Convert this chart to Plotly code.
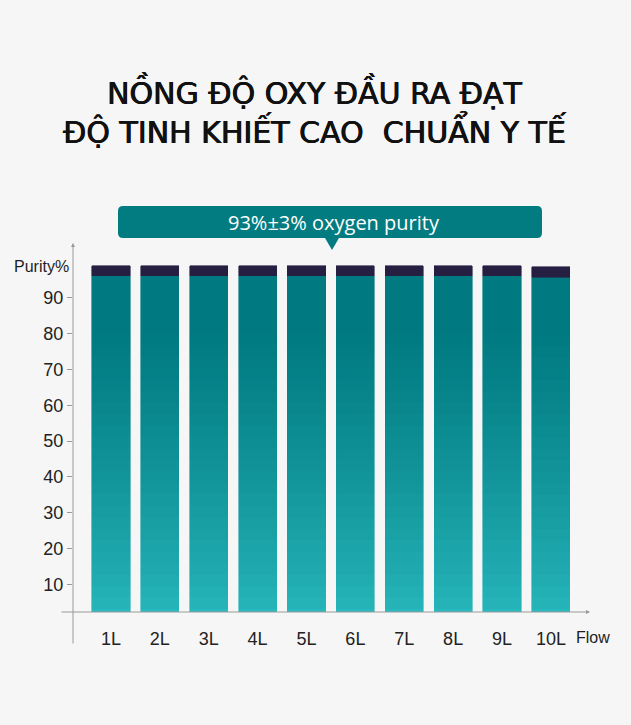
import plotly.graph_objects as go

# ---- data ----
flows = ["1L", "2L", "3L", "4L", "5L", "6L", "7L", "8L", "9L", "10L"]
purity_base = [96.1, 96.1, 96.1, 96.1, 96.1, 96.1, 96.1, 96.1, 96.1, 95.8]
purity_band = [2.8, 2.8, 2.8, 2.8, 2.8, 2.8, 2.8, 2.8, 2.8, 2.8]
y_ticks = [10, 20, 30, 40, 50, 60, 70, 80, 90]

# plot area in page pixels
W, H = 631, 725
PL, PR, PT, PB = 73, 590, 243, 612
BG = "#f6f6f6"


def fx(px):
    return (px - PL) / (PR - PL)


def fy(py):
    return (PB - py) / (PB - PT)


def mix(c1, c2, t):
    return "rgb(%d,%d,%d)" % tuple(round(a + (b - a) * t) for a, b in zip(c1, c2))


TOP = (0, 122, 128)
BOTTOM = (40, 184, 189)
N_BANDS = 30

fig = go.Figure()

# gradient teal bars: stacked bands, light at bottom -> dark at top
for k in range(N_BANDS):
    t = k / (N_BANDS - 1)
    col = mix(BOTTOM, TOP, min(1, t ** 0.8 * 1.15))
    fig.add_trace(go.Bar(
        x=flows, y=[v / N_BANDS for v in purity_base],
        marker=dict(color=col, line=dict(color=col, width=0.6)),
        showlegend=False, hoverinfo="skip",
    ))

fig.add_trace(go.Bar(
    x=flows, y=purity_band,
    marker=dict(color="#261f42", line=dict(color="#261f42", width=0.6)),
    showlegend=False, hoverinfo="skip",
))

fig.update_layout(
    width=W, height=H, autosize=False,
    margin=dict(l=PL, r=W - PR, t=PT, b=H - PB),
    paper_bgcolor=BG, plot_bgcolor=BG,
    barmode="stack", bargap=0.22,
    font=dict(family="Liberation Sans", color="#1e1e1e"),
)

fig.update_xaxes(
    range=[-0.777, 9.80], showline=False, showgrid=False, zeroline=False,
    ticks="outside", ticklen=10, tickcolor="rgba(0,0,0,0)",
    tickfont=dict(size=18, color="#222", family="Liberation Sans"),
)
fig.update_yaxes(
    range=[2.26, 105.3], tickvals=y_ticks, showline=False, showgrid=False,
    zeroline=False, ticks="outside", ticklen=5, tickcolor="#999", tickwidth=1,
    tickfont=dict(size=18, color="#222", family="Liberation Sans"),
)

# axis arrows
fig.add_annotation(x=0, y=1, xref="paper", yref="paper", text="",
                   showarrow=True, ax=0, ay=645 - PT, arrowhead=2,
                   arrowsize=0.8, arrowwidth=1, arrowcolor="#9a9a9a")
fig.add_annotation(x=1, y=0, xref="paper", yref="paper", text="",
                   showarrow=True, ax=60 - PR, ay=0, arrowhead=2,
                   arrowsize=0.8, arrowwidth=1, arrowcolor="#9a9a9a")

# axis labels
fig.add_annotation(x=fx(71), y=fy(266), xref="paper", yref="paper",
                   text="Purity%", showarrow=False, xanchor="right",
                   yanchor="middle", font=dict(size=16, color="#1e1e1e"))
fig.add_annotation(x=fx(574), y=fy(637), xref="paper", yref="paper",
                   text="Flow", showarrow=False, xanchor="left",
                   yanchor="middle", font=dict(size=16, color="#1e1e1e"))

# callout box
x0, x1, y0, y1, r = 118, 542, 206, 238, 5
pts = [
    ("M", x0 + r, y0), ("L", x1 - r, y0), ("Q", x1, y0, x1, y0 + r),
    ("L", x1, y1 - r), ("Q", x1, y1, x1 - r, y1),
    ("L", 339, y1), ("L", 332, 250), ("L", 325, y1),
    ("L", x0 + r, y1), ("Q", x0, y1, x0, y1 - r),
    ("L", x0, y0 + r), ("Q", x0, y0, x0 + r, y0),
]
path = ""
for p in pts:
    cmd, coords = p[0], p[1:]
    xy = []
    for i in range(0, len(coords), 2):
        xy.append("%.5f,%.5f" % (fx(coords[i]), fy(coords[i + 1])))
    path += cmd + " ".join(xy) + " "
fig.add_shape(type="path", path=path + "Z", xref="paper", yref="paper",
              fillcolor="#037c81", line=dict(width=0))
fig.add_annotation(x=fx(334), y=fy(222), xref="paper", yref="paper",
                   text="93%\u00b13% oxygen purity", showarrow=False,
                   xanchor="center", yanchor="middle",
                   font=dict(size=20, color="white", family="Open Sans"))

# title (two lines in one text); a thin shadow gives a medium weight
fig.add_annotation(x=fx(315), y=fy(111), xref="paper", yref="paper",
                   text="NỒNG ĐỘ OXY ĐẦU RA ĐẠT<br>ĐỘ TINH KHIẾT CAO\u00a0 CHUẨN Y TẾ",
                   showarrow=False, xanchor="center", yanchor="middle",
                   font=dict(size=30, color="#111", family="DejaVu Sans",
                             shadow="0.6px 0 0 #111, -0.3px 0 0 #111"))

fig.write_html(
    "out.html",
    config={"displayModeBar": False},
    post_script="document.body.style.margin='0';"
                "document.body.style.background='%s';" % BG,
)
